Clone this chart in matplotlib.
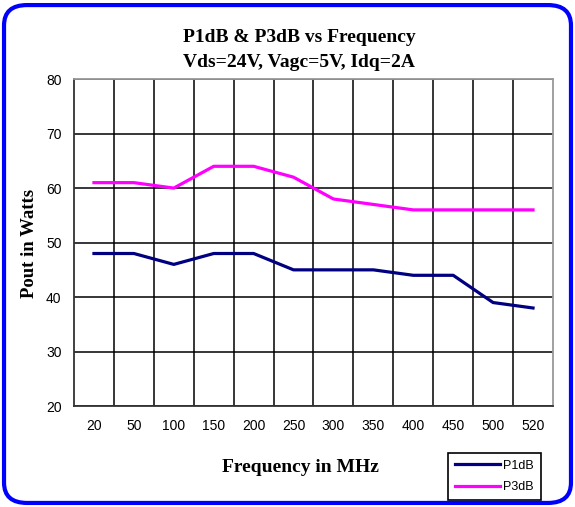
from matplotlib import pyplot as plt
from matplotlib.patches import FancyBboxPatch
import numpy as np

freqs = ['20', '50', '100', '150', '200', '250', '300', '350', '400', '450', '500', '520']
p1db = [48, 48, 46, 48, 48, 45, 45, 45, 44, 44, 39, 38]
p3db = [61, 61, 60, 64, 64, 62, 58, 57, 56, 56, 56, 56]

serif = ['Liberation Serif', 'DejaVu Serif']
sans = ['Liberation Sans', 'DejaVu Sans']

fig = plt.figure(figsize=(5.75, 5.07), dpi=100)
ax = fig.add_axes([0.1287, 0.199, 0.8330, 0.645])

x = np.arange(len(freqs))
ax.plot(x, p1db, color='#000080', lw=2.3, label='P1dB')
ax.plot(x, p3db, color='#FF00FF', lw=2.3, label='P3dB')

ax.set_xlim(-0.5, len(freqs) - 0.5)
ax.set_ylim(20, 80)
ax.set_yticks(range(20, 81, 10))
ax.set_xticks(x)
ax.set_xticklabels(freqs, fontfamily=sans, fontsize=10)
ax.set_yticklabels([str(v) for v in range(20, 81, 10)], fontfamily=sans, fontsize=10)
ax.set_xticks(x[:-1] + 0.5, minor=True)
ax.tick_params(which='both', length=0)
ax.tick_params(axis='x', pad=9)
ax.tick_params(axis='y', pad=9)
ax.grid(axis='y', which='major', color='black', lw=1.1)
ax.grid(axis='x', which='minor', color='black', lw=1.1)
ax.set_axisbelow(True)
for s in ['left', 'bottom']:
    ax.spines[s].set_color('#333333')
    ax.spines[s].set_linewidth(1.3)
for s in ['top', 'right']:
    ax.spines[s].set_color('#999999')
    ax.spines[s].set_linewidth(1.3)

fig.text(300 / 575, 1 - 467 / 507, 'Frequency in MHz', ha='center', va='center',
         fontfamily=serif, fontweight='bold', fontsize=14)
fig.text(30 / 575, 1 - 243 / 507, 'Pout in Watts', ha='center', va='center', rotation=90,
         fontfamily=serif, fontweight='bold', fontsize=13.5)
fig.text(0.52, 1 - 50 / 507, 'P1dB & P3dB vs Frequency\nVds=24V, Vagc=5V, Idq=2A', ha='center', va='center',
         fontfamily=serif, fontweight='bold', fontsize=14, linespacing=1.55)

leg = fig.legend(loc='lower right', bbox_to_anchor=(541 / 575, 7 / 507), borderaxespad=0,
                 frameon=True, fancybox=False, edgecolor='black', framealpha=1,
                 prop={'family': sans, 'size': 9}, handlelength=3.6, borderpad=0.55,
                 labelspacing=0.75, handletextpad=0.3)
leg.get_frame().set_linewidth(1.2)

border = FancyBboxPatch((0.007, 0.008), 0.986, 0.982, boxstyle='round,pad=0,rounding_size=0.04',
                        transform=fig.transFigure, fill=False, edgecolor='#0000FF', lw=3, zorder=10)
fig.patches.append(border)

fig.savefig('out.png', dpi=100)
